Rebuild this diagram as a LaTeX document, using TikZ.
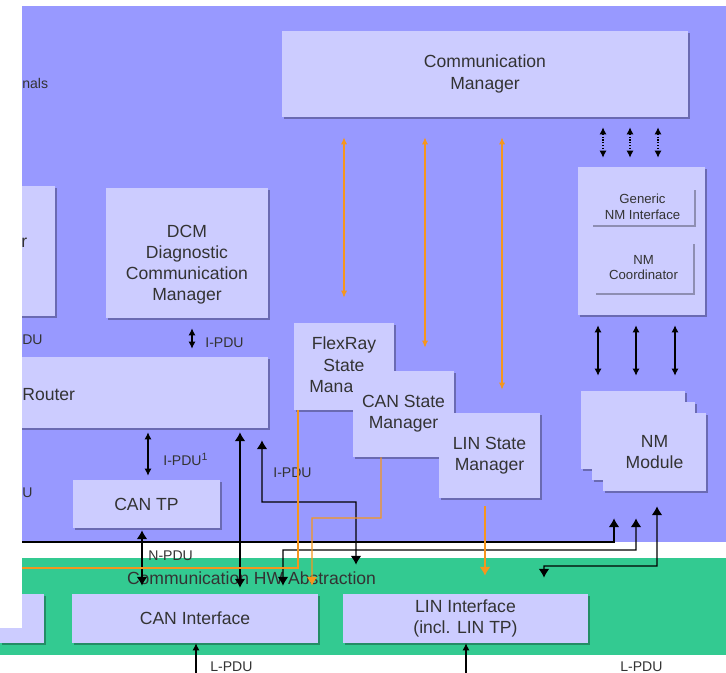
\documentclass[tikz,border=0pt]{standalone}
\usepackage{fontspec}
\setmainfont{Liberation Sans}
\usetikzlibrary{arrows.meta,shadows}
\definecolor{busblue}{RGB}{152,153,255}
\definecolor{boxfill}{RGB}{204,204,255}
\definecolor{hwgreen}{RGB}{51,202,145}
\definecolor{smorange}{RGB}{245,150,30}
\begin{document}
\begin{tikzpicture}[x=0.02cm,y=-0.02cm,
  boxtext/.style={align=center, inner sep=0pt, text=black!80, font=\fontsize{10}{12}\selectfont},
  box/.style={boxtext, fill=boxfill,
    drop shadow={shadow xshift=0.04cm, shadow yshift=-0.04cm, fill=black, opacity=0.3}},
  nmbox/.style={box, font=\fontsize{7.5}{9}\selectfont},
  lbl/.style={inner sep=0pt, anchor=west, text=black!80, font=\fontsize{8}{9}\selectfont},
  pdu/.style={line width=0.6pt, {Latex[length=4pt,width=4pt]}-{Latex[length=4pt,width=4pt]}},
  pdubig/.style={line width=0.6pt, {Latex[length=5pt,width=6pt]}-{Latex[length=5pt,width=6pt]}},
  nmlink/.style={pdu, densely dotted},
  cmd/.style={draw=smorange, line width=0.6pt, {Latex[length=4pt,width=3.5pt]}-{Latex[length=4pt,width=3.5pt]}},
  cmdline/.style={draw=smorange, line width=0.6pt}]
\useasboundingbox (0,0) rectangle (726,672);
% layers
\fill[busblue] (22,6) rectangle (726,542);
\fill[hwgreen] (0,558) rectangle (726,655);
% services
\node[box, minimum width=8.12cm, minimum height=1.72cm] (comm) at (485,74) {Communication\\Manager};
\node[box, minimum width=1.1cm, minimum height=2.6cm] (leftbox) at (27.5,251) {};
\node[box, minimum width=3.24cm, minimum height=2.6cm] (dcm) at (187,253) {};
\node[boxtext] (dcmtext) at ([yshift=-0.24cm]dcm.center) {DCM\\Diagnostic\\Communication\\Manager};
\node[box, minimum width=5.36cm, minimum height=1.42cm] (router) at (134,392.5) {};
\node[boxtext, anchor=west] (routertext) at (22,395) {Router};
\node[box, minimum width=2.94cm, minimum height=0.96cm] (cantp) at (146.5,504) {CAN TP};
\node[box, minimum width=2.54cm, minimum height=2.96cm] (nmgroup) at (641.5,241) {};
\node[nmbox, minimum width=2.06cm, minimum height=0.74cm] (gennm) at (642.5,206.5) {Generic\\NM Interface};
\node[nmbox, minimum width=1.98cm, minimum height=1.02cm] (nmcoord) at (643.5,267.5) {NM\\Coordinator};
\node[box, minimum width=2cm, minimum height=1.74cm] (flexsm) at (344,366.5) {FlexRay\\State\\Manager};
\node[box, minimum width=2.02cm, minimum height=1.72cm] (canSM) at (403.5,414) {CAN State\\Manager};
\node[box, minimum width=2.02cm, minimum height=1.7cm] (linSM) at (489.5,455.5) {LIN State\\Manager};
\node[box, minimum width=2.08cm, minimum height=1.56cm] (nmback) at (633,430) {};
\node[box, minimum width=2.06cm, minimum height=1.56cm] (nmmid) at (643.5,441) {};
\node[box, minimum width=2.06cm, minimum height=1.56cm] (nmmod) at (654.5,452) {NM\\Module};
% hw abstraction
\node[boxtext] (hwtitle) at (251.5,578) {Communication HW Abstraction};
\node[box, minimum width=0.88cm, minimum height=0.98cm] (leftif) at (22,618.5) {};
\node[box, minimum width=4.92cm, minimum height=0.98cm] (canif) at (195,618.5) {CAN Interface};
\node[box, minimum width=4.9cm, minimum height=0.98cm] (linif) at (465.5,618.5) {LIN Interface\\(incl. LIN TP)};
% ComM links
\draw[cmd, shorten <=0.4cm, shorten >=0.5cm] (flexsm.north |- comm.south) -- (flexsm.north);
\draw[cmd, shorten <=0.4cm, shorten >=0.46cm] ([xshift=0.43cm]canSM.north |- comm.south) -- ([xshift=0.43cm]canSM.north);
\draw[cmd, shorten <=0.4cm, shorten >=0.46cm] ([xshift=0.25cm]linSM.north |- comm.south) -- ([xshift=0.25cm]linSM.north);
\foreach \dx in {-0.77,-0.23,0.33}
  \draw[nmlink, shorten <=0.2cm, shorten >=0.18cm] ([xshift=\dx cm]nmgroup.north |- comm.south) -- ([xshift=\dx cm]nmgroup.north);
\foreach \dx in {-0.87,-0.11,0.67}
  \draw[pdu, shorten <=0.2cm, shorten >=0.3cm] ([xshift=\dx cm]nmgroup.south) -- ([xshift=\dx cm]nmgroup.south |- nmback.north);
% PDU paths
\draw[pdu, shorten <=0.2cm, shorten >=0.16cm] ([xshift=0.1cm]dcm.south) -- ([xshift=0.1cm]dcm.south |- router.north);
\node[lbl] (ipdudcm) at (205,343) {I-PDU};
\draw[pdu, shorten <=0.08cm, shorten >=0.08cm] ([xshift=0.28cm]router.south) -- ([xshift=0.28cm]router.south |- cantp.north);
\node[lbl] (ipdutp) at (163,459) {I-PDU\textsuperscript{1}};
\draw[pdubig, shorten <=0.04cm, shorten >=0.16cm] ([xshift=-0.09cm]cantp.south) -- ([xshift=-0.09cm]cantp.south |- canif.north);
\node[lbl] (npdu) at (148,556) {N-PDU};
\draw[pdubig, shorten <=0.08cm, shorten >=0.12cm] ([xshift=2.12cm]router.south) -- ([xshift=2.12cm]router.south |- canif.north);
\draw[pdubig, shorten <=0.24cm, shorten >=0.58cm] ([xshift=2.56cm]router.south) |- (356,502) -- ([xshift=-2.19cm]linif.north);
\node[lbl] (ipdulin) at (273,473) {I-PDU};
% NM bus lines
\coordinate (busleft) at (0,542);
\draw[line width=0.6pt, -{Latex[length=5pt,width=6pt]}, shorten >=0.54cm] (busleft) -| ([xshift=-0.81cm]nmmod.south);
\draw[pdubig, shorten <=0.16cm, shorten >=0.54cm] ([xshift=1.76cm]canif.north) |- (636,550) -- ([xshift=-0.37cm]nmmod.south);
\draw[pdubig, shorten <=0.32cm, shorten >=0.3cm] ([xshift=1.57cm]linif.north) |- (657,566) -- ([xshift=0.05cm]nmmod.south);
% state manager lines
\coordinate (flexleft) at (0,568);
\draw[cmdline] ([xshift=-0.92cm]flexsm.south) |- (flexleft);
\draw[cmdline, -{Latex[length=5pt,width=6pt]}, shorten >=0.16cm] ([xshift=-0.45cm]canSM.south) |- (312,518) -- ([xshift=2.34cm]canif.north);
\draw[cmdline, -{Latex[length=5pt,width=6pt]}, shorten <=0.16cm, shorten >=0.36cm] ([xshift=-0.09cm]linSM.south) -- ([xshift=-0.09cm]linSM.south |- linif.north);
% bus side
\coordinate (canbus) at (196,700);
\coordinate (linbus) at (466,700);
\draw[line width=0.6pt, -{Latex[length=4pt,width=4pt]}] (canbus) -- (canbus |- canif.south);
\draw[line width=0.6pt, -{Latex[length=4pt,width=4pt]}] (linbus) -- (linbus |- linif.south);
\node[lbl, anchor=north west] (lpducan) at (210,661) {L-PDU};
\node[lbl, anchor=north west] (lpdulin) at (620,661) {L-PDU};
% cut edge
\fill[white] (0,0) rectangle (22,628);
\node[lbl] (fragsig) at (22,83) {nals};
\node[boxtext, anchor=west] (fragbox) at (21,243) {r};
\node[lbl] (fragdu) at (22,340) {DU};
\node[lbl] (fragu) at (22,493) {U};
\end{tikzpicture}
\end{document}
